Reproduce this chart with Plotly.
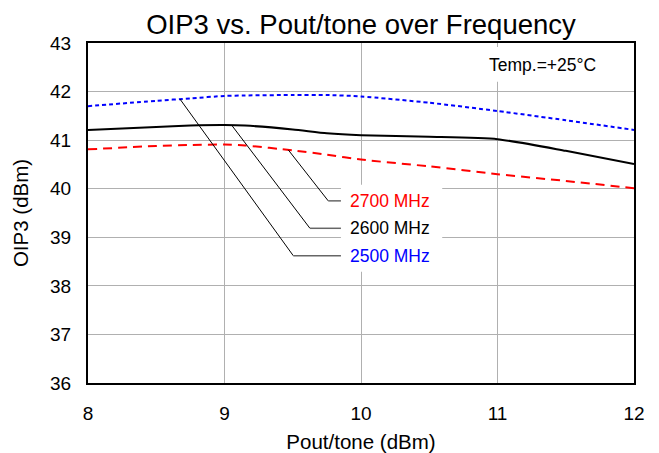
import numpy as np
import plotly.graph_objects as go

# ---- data ----
pout = [8, 8.5, 8.75, 9, 9.15, 9.5, 9.75, 10, 10.5, 11, 11.5, 12]
oip3_2500 = [41.70, 41.81, 41.86, 41.91, 41.92, 41.93, 41.93, 41.90, 41.77, 41.60, 41.41, 41.21]
oip3_2600 = [41.21, 41.27, 41.30, 41.31, 41.30, 41.22, 41.14, 41.10, 41.07, 41.02, 40.78, 40.51]
oip3_2700 = [40.81, 40.88, 40.90, 40.91, 40.89, 40.79, 40.70, 40.60, 40.46, 40.30, 40.16, 40.01]
series_names = ["2500 MHz", "2600 MHz", "2700 MHz"]
x_ticks = [8, 9, 10, 11, 12]
y_ticks = [36, 37, 38, 39, 40, 41, 42, 43]

FONT = "Liberation Sans, Arial, sans-serif"
colors = {"2500 MHz": "#0000FF", "2600 MHz": "#000000", "2700 MHz": "#FF0000"}
dashes = {"2500 MHz": "4px,3px", "2600 MHz": "solid", "2700 MHz": "9px,6px"}
values = {"2500 MHz": oip3_2500, "2600 MHz": oip3_2600, "2700 MHz": oip3_2700}

fig = go.Figure()
for name in series_names:
    fig.add_trace(go.Scatter(
        x=pout, y=values[name], mode="lines", name=name,
        line=dict(color=colors[name], width=2, dash=dashes[name], shape="spline", smoothing=0.6),
        showlegend=False, hoverinfo="skip"))

shapes = []
# white boxes over gridlines
shapes.append(dict(type="rect", xref="x", yref="y", x0=9.853, x1=10.595, y0=38.29, y1=40.08,
                   fillcolor="white", line=dict(width=0), layer="between"))
shapes.append(dict(type="rect", xref="x", yref="y", x0=10.87, x1=11.82, y0=42.20, y1=42.92,
                   fillcolor="white", line=dict(width=0), layer="between"))

annotations = []
# callouts: (series, tip x, elbow x, elbow y)
callouts = [("2700 MHz", 9.467, 9.76, 39.75),
            ("2600 MHz", 9.053, 9.626, 39.185),
            ("2500 MHz", 8.674, 9.504, 38.62)]
for name, tx, ex, ey in callouts:
    ty = float(np.interp(tx, pout, values[name]))
    shapes.append(dict(type="line", xref="x", yref="y", x0=tx, y0=ty, x1=ex, y1=ey,
                       line=dict(color="black", width=1), layer="above"))
    shapes.append(dict(type="line", xref="x", yref="y", x0=ex, y0=ey, x1=9.853, y1=ey,
                       line=dict(color="#666666", width=1.5), layer="above"))
    annotations.append(dict(x=9.905, y=ey, xref="x", yref="y", text=name, showarrow=False,
                            xanchor="left", yanchor="middle",
                            font=dict(family=FONT, size=17.5, color=colors[name])))

annotations.append(dict(x=11.33, y=42.555, xref="x", yref="y", text="Temp.=+25°C", showarrow=False,
                        xanchor="center", yanchor="middle",
                        font=dict(family=FONT, size=17.5, color="black")))

# page body has an 8px margin; size the figure so it fills the 659x453 window
W, H = 651, 445
fig.update_layout(
    width=W, height=H,
    margin=dict(l=80, r=25, t=35, b=70),
    paper_bgcolor="white", plot_bgcolor="white",
    font=dict(family=FONT, color="black"),
    title=dict(text="OIP3 vs. Pout/tone over Frequency", x=0.5, xref="paper", xanchor="center",
               y=1 - 16 / H, yref="container", yanchor="middle",
               font=dict(family=FONT, size=27.5, color="black")),
    shapes=shapes, annotations=annotations, showlegend=False,
)
fig.update_xaxes(range=[8, 12], tickvals=x_ticks, ticktext=[str(v) for v in x_ticks],
                 showgrid=True, gridcolor="#b0b0b0", gridwidth=1,
                 showline=True, linecolor="black", linewidth=2, mirror=True,
                 ticks="", ticklabelstandoff=12, zeroline=False, automargin=False,
                 tickfont=dict(family=FONT, size=19, color="black"),
                 title=dict(text="Pout/tone (dBm)", standoff=21, font=dict(family=FONT, size=20.5, color="black")))
fig.update_yaxes(range=[36, 43], tickvals=y_ticks, ticktext=[str(v) for v in y_ticks],
                 showgrid=True, gridcolor="#b0b0b0", gridwidth=1,
                 showline=True, linecolor="black", linewidth=2, mirror=True,
                 ticks="", ticklabelstandoff=11, zeroline=False, automargin=False,
                 tickfont=dict(family=FONT, size=19, color="black"),
                 title=dict(text="OIP3 (dBm)", standoff=16, font=dict(family=FONT, size=20.5, color="black")))

fig.write_html("out.html")
